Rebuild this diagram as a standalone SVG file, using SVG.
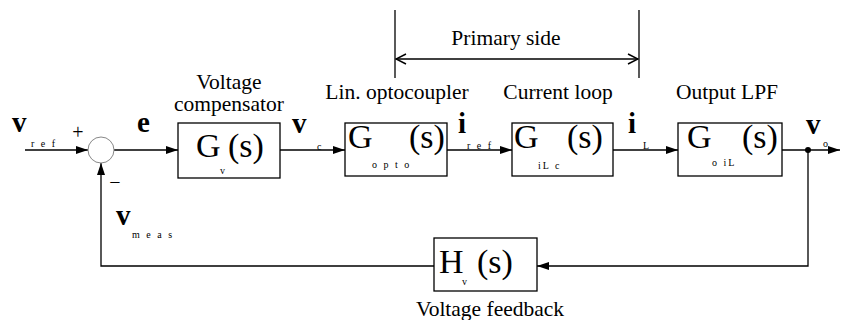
<svg xmlns="http://www.w3.org/2000/svg" width="841" height="320" viewBox="0 0 841 320">
<defs>
<marker id="ah" markerWidth="12" markerHeight="10" refX="12" refY="5" orient="auto" markerUnits="userSpaceOnUse">
<path d="M0,1 L12,5 L0,9 Z" fill="#000"/>
</marker>
<marker id="oa" markerWidth="12" markerHeight="12" refX="11" refY="6" orient="auto-start-reverse" markerUnits="userSpaceOnUse">
<path d="M1,1 L11,6 L1,11" fill="none" stroke="#000" stroke-width="1.5"/>
</marker>
</defs>
<style>
text{font-family:"Liberation Serif","Times New Roman",serif;fill:#000}
.lbl{font-size:21.5px;text-anchor:middle}
.big{font-size:34px}
.var{font-size:29px;font-weight:bold}
.sub{font-size:10px;letter-spacing:2px}
.box{fill:#fff;stroke:#000;stroke-width:1.3}
.ln{fill:none;stroke:#000;stroke-width:1.3}
</style>
<rect width="841" height="320" fill="#fff"/>

<g id="connectors">
<line class="ln" x1="25" y1="150" x2="88" y2="150" marker-end="url(#ah)"/>
<line class="ln" x1="114" y1="150" x2="178" y2="150" marker-end="url(#ah)"/>
<line class="ln" x1="280" y1="150" x2="345" y2="150" marker-end="url(#ah)"/>
<line class="ln" x1="447" y1="150" x2="512" y2="150" marker-end="url(#ah)"/>
<line class="ln" x1="613" y1="150" x2="678" y2="150" marker-end="url(#ah)"/>
<line class="ln" x1="782" y1="150" x2="840" y2="150" marker-end="url(#ah)"/>
<polyline class="ln" points="808,150 808,266 537,266" marker-end="url(#ah)"/>
<polyline class="ln" points="434,266 101,266 101,163" marker-end="url(#ah)"/>
<circle cx="808" cy="150" r="3" fill="#000"/>
<line class="ln" x1="395" y1="10" x2="395" y2="78"/>
<line class="ln" x1="639" y1="10" x2="639" y2="78"/>
<line class="ln" x1="396" y1="59" x2="638" y2="59" marker-start="url(#oa)" marker-end="url(#oa)"/>
</g>

<g id="sum">
<circle cx="101" cy="150" r="13" fill="#fff" stroke="#888" stroke-width="1"/>
<text x="78" y="139" style="font-size:20px;text-anchor:middle">+</text>
<text x="115" y="189" style="font-size:20px;text-anchor:middle">−</text>
</g>

<g id="Gv">
<rect class="box" x="178" y="123" width="102" height="55"/>
<text class="big" x="196" y="157">G</text>
<text class="big" x="228" y="157">(s)</text>
<text class="sub" x="220" y="174">v</text>
</g>

<g id="Gopto">
<rect class="box" x="345" y="123" width="102" height="53"/>
<text class="big" x="348" y="148">G</text>
<text class="big" x="409" y="148">(s)</text>
<text class="sub" x="372" y="168">o p t o</text>
</g>

<g id="GiLc">
<rect class="box" x="512" y="123" width="101" height="53"/>
<text class="big" x="514" y="148">G</text>
<text class="big" x="567" y="148">(s)</text>
<text class="sub" x="538" y="169">iL c</text>
</g>

<g id="GoiL">
<rect class="box" x="678" y="123" width="104" height="53"/>
<text class="big" x="687" y="148">G</text>
<text class="big" x="742" y="148">(s)</text>
<text class="sub" x="712" y="166">o iL</text>
</g>

<g id="Hv">
<rect class="box" x="434" y="238" width="103" height="53"/>
<text class="big" x="439" y="273">H</text>
<text class="big" x="477" y="273">(s)</text>
<text class="sub" x="462" y="285">v</text>
</g>

<g id="labels">
<text class="lbl" x="229" y="89">Voltage</text>
<text class="lbl" x="229" y="111">compensator</text>
<text class="lbl" x="397" y="99">Lin. optocoupler</text>
<text class="lbl" x="558" y="99">Current loop</text>
<text class="lbl" x="727" y="99">Output LPF</text>
<text class="lbl" x="506" y="45">Primary side</text>
<text class="lbl" x="490" y="316">Voltage feedback</text>

<text class="var" x="12" y="132">v</text>
<text class="sub" x="31" y="147">r e f</text>
<text class="var" x="137" y="132">e</text>
<text class="var" x="292" y="133">v</text>
<text class="sub" x="317" y="150">c</text>
<text class="var" x="458" y="133">i</text>
<text class="sub" x="467" y="149">r e f</text>
<text class="var" x="628" y="133">i</text>
<text class="sub" x="643" y="149">L</text>
<text class="var" x="806" y="134">v</text>
<text class="sub" x="823" y="147">o</text>
<text class="var" x="116" y="225">v</text>
<text class="sub" x="132" y="238">m e a s</text>
</g>
</svg>
